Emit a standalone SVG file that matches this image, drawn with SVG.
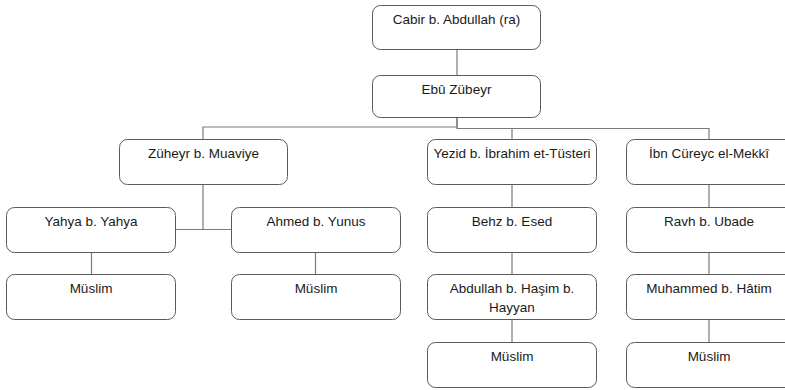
<svg xmlns="http://www.w3.org/2000/svg" width="785" height="390" viewBox="0 0 785 390">
<style>
.box{fill:#ffffff;stroke:#5a5a5a;stroke-width:1}
.lbl{font-family:"Liberation Sans",Arial,sans-serif;font-size:13.5px;fill:#1a1a1a;text-anchor:middle}
.con{fill:none;stroke:#7a7a7a;stroke-width:1.2}
</style>
<rect width="785" height="390" fill="#ffffff"/>
<g id="connectors">
<path class="con" d="M457,49V75"/>
<path class="con" d="M457,117V127H203V139"/>
<path class="con" d="M457,117V128.5H709V139M512,128.5V139"/>
<path class="con" d="M203,184V229.5M175,229.5H232"/>
<path class="con" d="M91.5,252V274"/>
<path class="con" d="M315.5,252V274"/>
<path class="con" d="M512,184V207M512,252V274M512,319V342"/>
<path class="con" d="M709,185V207M709,252V274M709,319V342"/>
</g>
<g id="n-cabir"><rect class="box" x="372.5" y="5.5" width="168" height="44" rx="8"/><text class="lbl" x="456.5" y="23.5">Cabir b. Abdullah (ra)</text></g>
<g id="n-ebu"><rect class="box" x="372.5" y="75.5" width="168" height="42" rx="8"/><text class="lbl" x="456.5" y="93.5">Ebû Zübeyr</text></g>
<g id="n-zuheyr"><rect class="box" x="119.5" y="139.5" width="168" height="45" rx="8"/><text class="lbl" x="203.5" y="157.5">Züheyr b. Muaviye</text></g>
<g id="n-yezid"><rect class="box" x="427.5" y="139.5" width="169" height="45" rx="8"/><text class="lbl" x="512" y="157.5">Yezid b. İbrahim et-Tüsteri</text></g>
<g id="n-ibn"><rect class="box" x="626.5" y="139.5" width="169" height="45" rx="8"/><text class="lbl" x="709" y="157.5">İbn Cüreyc el-Mekkî</text></g>
<g id="n-yahya"><rect class="box" x="6.5" y="207.5" width="169" height="45" rx="8"/><text class="lbl" x="91" y="225.5">Yahya b. Yahya</text></g>
<g id="n-ahmed"><rect class="box" x="231.5" y="207.5" width="169" height="45" rx="8"/><text class="lbl" x="316" y="225.5">Ahmed b. Yunus</text></g>
<g id="n-behz"><rect class="box" x="427.5" y="207.5" width="169" height="45" rx="8"/><text class="lbl" x="512" y="225.5">Behz b. Esed</text></g>
<g id="n-ravh"><rect class="box" x="626.5" y="207.5" width="169" height="45" rx="8"/><text class="lbl" x="709" y="225.5">Ravh b. Ubade</text></g>
<g id="n-muslim1"><rect class="box" x="6.5" y="274.5" width="169" height="45" rx="8"/><text class="lbl" x="91" y="292.5">Müslim</text></g>
<g id="n-muslim2"><rect class="box" x="231.5" y="274.5" width="169" height="45" rx="8"/><text class="lbl" x="316" y="292.5">Müslim</text></g>
<g id="n-abdullah"><rect class="box" x="427.5" y="274.5" width="169" height="45" rx="8"/><text class="lbl" x="512" y="292.5">Abdullah b. Haşim b.</text><text class="lbl" x="512" y="311.5">Hayyan</text></g>
<g id="n-muhammed"><rect class="box" x="626.5" y="274.5" width="169" height="45" rx="8"/><text class="lbl" x="709" y="292.5">Muhammed b. Hâtim</text></g>
<g id="n-muslim3"><rect class="box" x="427.5" y="342.5" width="169" height="45" rx="8"/><text class="lbl" x="512" y="360.5">Müslim</text></g>
<g id="n-muslim4"><rect class="box" x="626.5" y="342.5" width="169" height="45" rx="8"/><text class="lbl" x="709" y="360.5">Müslim</text></g>
</svg>
